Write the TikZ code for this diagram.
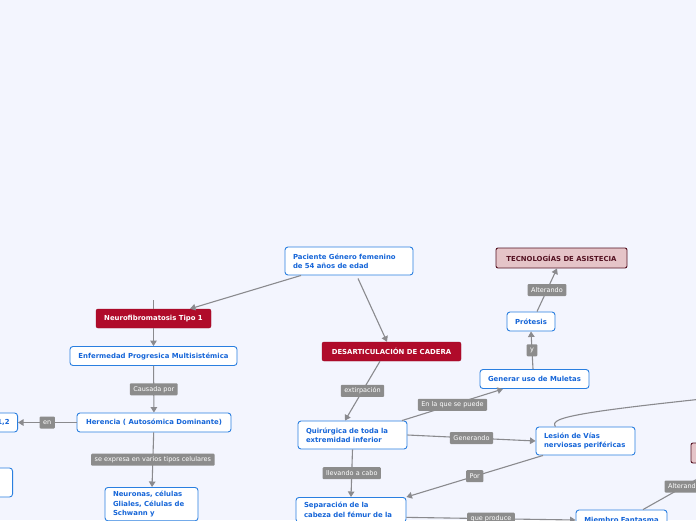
\documentclass[tikz,border=0pt]{standalone}
\usepackage{fontspec}
\setmainfont{DejaVu Sans}
\usepackage{xcolor}
\usepackage{tikz}
\usetikzlibrary{arrows.meta}
\definecolor{bgblue}{RGB}{243,245,254}
\definecolor{nodeblue}{RGB}{42,127,224}
\definecolor{txtblue}{RGB}{21,101,216}
\definecolor{mainred}{RGB}{176,11,42}
\definecolor{techpink}{RGB}{229,196,200}
\definecolor{techdark}{RGB}{84,18,34}
\definecolor{lblgray}{RGB}{140,140,140}
\definecolor{edgegray}{RGB}{138,138,142}

\begin{document}
\begin{tikzpicture}[
  x=1pt, y=-1pt,
  topic/.style={rectangle, rounded corners=3pt, draw=nodeblue, fill=white,
                line width=0.9pt, text=txtblue, inner xsep=8pt, inner ysep=3pt,
                minimum height=19pt, font=\bfseries\fontsize{6.9}{9.2}\selectfont},
  main/.style={rectangle, rounded corners=2pt, draw=mainred!85!black, fill=mainred,
               text=white, minimum height=19pt, inner xsep=6pt,
               font=\bfseries\fontsize{6.9}{9.2}\selectfont},
  tech/.style={rectangle, rounded corners=2pt, draw=techdark, fill=techpink,
               line width=0.9pt, text=techdark, minimum height=20pt,
               font=\bfseries\fontsize{6.9}{9.2}\selectfont},
  lbl/.style={rectangle, rounded corners=1pt, fill=lblgray, text=white,
              inner xsep=3.5pt, inner ysep=2pt, minimum height=12pt,
              font=\fontsize{6.5}{7}\selectfont},
  arr/.style={-{Triangle[length=5.5pt,width=6.5pt]}, line width=1.1pt, draw=edgegray},
  plain/.style={line width=1.1pt, draw=edgegray}
]
  \useasboundingbox (0,0) rectangle (696,520);
  \clip (0,0) rectangle (696,520);
  \fill[bgblue] (0,0) rectangle (696,520);

  % central topic and the two branches
  \node[topic, text width=112pt, align=left, minimum height=28pt] (pac) at (349,261)
    {Paciente Género femenino\\de 54 años de edad};
  \node[main, minimum width=115pt] (neuro)  at (153.5,318.5) {Neurofibromatosis Tipo 1};
  \node[main, minimum width=139pt] (desart) at (391.5,351.5) {DESARTICULACIÓN DE CADERA};

  % left branch
  \node[topic, minimum width=167pt] (enf) at (153.5,356) {Enfermedad Progresica Multisistémica};
  \node[topic, minimum width=154pt] (her) at (154,422.5) {Herencia ( Autosómica Dominante)};
  \node[topic, anchor=east, text width=44pt, align=right] (cro) at (18,422.5) {1,2};
  \node[topic, anchor=east, minimum width=60pt, minimum height=29pt] (cel) at (13,482.5) {};
  \node[topic, anchor=north, text width=77pt, align=left, inner ysep=4pt] (neu) at (151.5,487)
    {Neuronas, células\\Gliales, Células de\\Schwann y};
  \coordinate (stub) at (153.5,300);

  % right branch
  \node[topic, text width=93pt, align=left, minimum height=28pt] (quir) at (352.5,435)
    {Quirúrgica de toda la\\extremidad inferior};
  \node[topic, anchor=north, text width=94pt, align=left, inner ysep=5pt] (sep) at (351,497)
    {Separación de la\\cabeza del fémur de la};
  \node[topic, minimum width=109pt] (mul) at (534.5,379) {Generar uso de Muletas};
  \node[topic, minimum width=48pt] (pro) at (531,321.5) {Prótesis};
  \node[tech, minimum width=131pt] (tec) at (561.5,258) {TECNOLOGÍAS DE ASISTECIA};
  \node[topic, text width=83pt, align=left, minimum height=28pt] (les) at (585.5,441)
    {Lesión de Vías\\nerviosas periféricas};
  \node[topic, minimum width=91pt, minimum height=20pt] (mie) at (621.5,520) {Miembro Fantasma};
  \node[tech, minimum width=108pt] (pk) at (745,453) {};
  \coordinate (far) at (790,390);

  % connectors
  \draw[arr] ([xshift=-48pt]pac.south) -- ([xshift=36.5pt]neuro.north);
  \draw[arr] ([xshift=9pt,yshift=-3pt]pac.south) -- ([xshift=-4.5pt]desart.north);
  \draw[plain] (stub) -- (neuro.north);
  \draw[arr] (neuro) -- (enf);
  \draw[arr] (enf) -- node[lbl] {Causada por} (her);
  \draw[arr] (her) -- node[lbl] {en} (cro);
  \draw[arr] (her) -- node[lbl] {se expresa en varios tipos celulares} (neu);

  \draw[arr] ([xshift=-11.5pt]desart.south) -- node[lbl] {extirpación} ([xshift=-7.5pt]quir.north);
  \draw[arr] ([xshift=49.5pt]quir.north) -- node[lbl] {En la que se puede} ([xshift=-31.5pt]mul.south);
  \draw[arr] ([xshift=-1.5pt]mul.north) -- node[lbl] {y} (pro.south);
  \draw[arr] ([xshift=6pt]pro.north) -- node[lbl] {Alterando} ([xshift=-4.5pt]tec.south);
  \draw[arr] (quir.east) -- node[lbl] {Generando} (les.west);
  \draw[arr] (quir.south) -- node[lbl] {llevando a cabo} (sep.north);
  \draw[arr] ([xshift=-42.5pt]les.south) -- node[lbl] {Por} (sep.north east);
  \draw[arr] ([yshift=-7.5pt]sep.east) -- node[lbl] {que produce} (mie.west);
  \draw[arr] ([xshift=21.5pt]mie.north) -- node[lbl] {Alterando} ([xshift=-20pt]pk.south);
  \draw[arr] ([xshift=-30pt]les.north) .. controls (548,417) and (580,411) .. (far);
\end{tikzpicture}
\end{document}
